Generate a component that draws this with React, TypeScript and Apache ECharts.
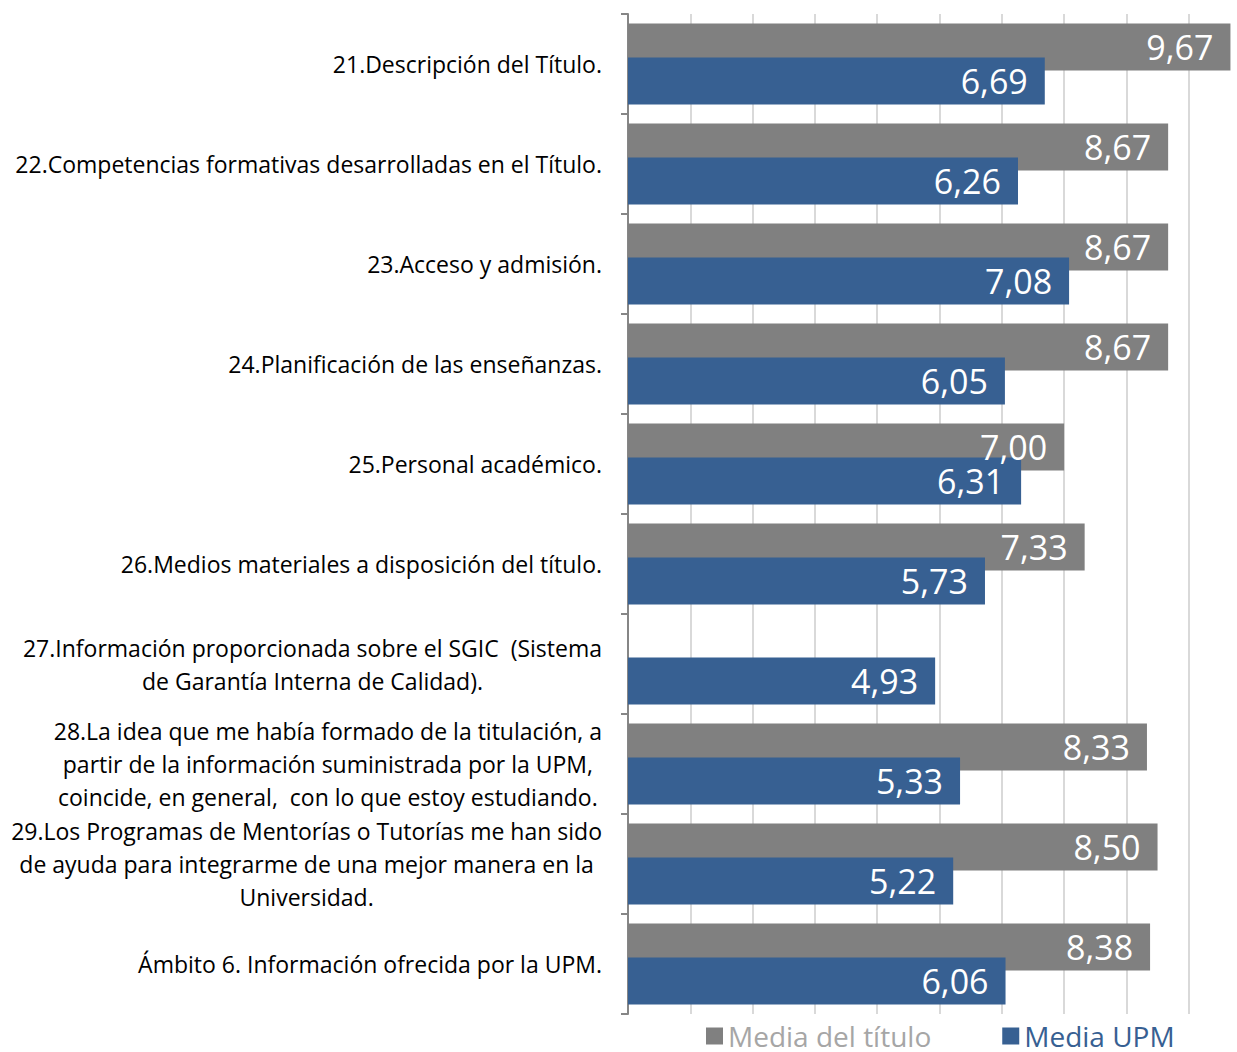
import React, { useEffect, useRef } from "react";
import * as echarts from "echarts";

const categories = [
  "21.Descripción del Título.",
  "22.Competencias formativas desarrolladas en el Título.",
  "23.Acceso y admisión.",
  "24.Planificación de las enseñanzas.",
  "25.Personal académico.",
  "26.Medios materiales a disposición del título.",
  "27.Información proporcionada sobre el SGIC  (Sistema\nde Garantía Interna de Calidad).",
  "28.La idea que me había formado de la titulación, a\npartir de la información suministrada por la UPM,\ncoincide, en general,  con lo que estoy estudiando.",
  "29.Los Programas de Mentorías o Tutorías me han sido\nde ayuda para integrarme de una mejor manera en la\nUniversidad.",
  "Ámbito 6. Información ofrecida por la UPM.",
];

const mediaTitulo: (number | null)[] = [9.67, 8.67, 8.67, 8.67, 7.0, 7.33, null, 8.33, 8.5, 8.38];
const mediaUPM = [6.69, 6.26, 7.08, 6.05, 6.31, 5.73, 4.93, 5.33, 5.22, 6.06];

const seriesNames = ["Media del título", "Media UPM"];
const GRAY = "#808080";
const BLUE = "#376092";
const FONT = "'Open Sans', sans-serif";

export default function App() {
  const ref = useRef<HTMLDivElement>(null);
  useEffect(() => {
    if (!ref.current) return;
    const chart = echarts.init(ref.current, undefined, { renderer: "svg" });
    const fmt = (p: any) => (p.value == null ? "" : Number(p.value).toFixed(2).replace(".", ","));
    const label = {
      show: true,
      position: "insideRight",
      distance: 17,
      color: "#ffffff",
      fontSize: 34,
      fontFamily: FONT,
      formatter: fmt,
    };
    chart.setOption({
      animation: false,
      textStyle: { fontFamily: FONT },
      grid: { left: 628, right: 9, top: 14, bottom: 38, containLabel: false },
      legend: {
        left: 701,
        top: 1017,
        itemGap: 71,
        itemWidth: 17,
        itemHeight: 17,
        icon: "rect",
        textStyle: { fontSize: 28, lineHeight: 28, fontFamily: FONT },
        data: [
          { name: seriesNames[0], textStyle: { color: "#a6a6a6" } },
          { name: seriesNames[1], textStyle: { color: BLUE } },
        ],
      },
      xAxis: {
        type: "value",
        min: 0,
        max: 10,
        interval: 1,
        axisLine: { show: false },
        axisTick: { show: false },
        axisLabel: { show: false },
        splitLine: { show: true, lineStyle: { color: "#d9d9d9", width: 2 } },
      },
      yAxis: {
        type: "category",
        inverse: true,
        data: categories,
        axisLine: { show: true, lineStyle: { color: "#868686", width: 2 } },
        axisTick: { show: true, length: 7, lineStyle: { color: "#868686", width: 2 } },
        axisLabel: {
          margin: 26,
          color: "#000000",
          fontSize: 23,
          lineHeight: 33,
          fontFamily: FONT,
          formatter: (v: string) =>
            v
              .split("\n")
              .map((l) => `{c|${l}}`)
              .join("\n"),
          rich: {
            c: { align: "center", fontSize: 23, lineHeight: 33, color: "#000000", fontFamily: FONT },
          },
        },
      },
      series: [
        {
          name: seriesNames[0],
          type: "bar",
          data: mediaTitulo,
          barWidth: 47,
          barGap: "-28%",
          itemStyle: { color: GRAY },
          label,
        },
        {
          name: seriesNames[1],
          type: "bar",
          data: mediaUPM,
          barWidth: 47,
          barGap: "-28%",
          itemStyle: { color: BLUE },
          label,
        },
      ],
    });
    return () => chart.dispose();
  }, []);
  return (
    <div
      style={{
        position: "fixed",
        left: 0,
        top: 0,
        width: 1237,
        height: 1052,
        overflow: "hidden",
        background: "#fff",
      }}
    >
      <div ref={ref} style={{ width: 1260, height: 1052 }} />
    </div>
  );
}
